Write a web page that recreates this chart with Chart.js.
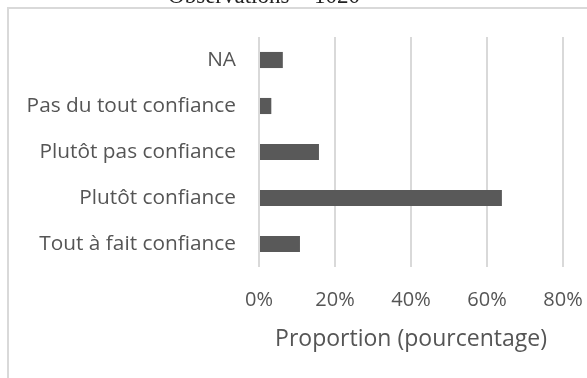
<!DOCTYPE html>
<html>
<head>
<meta charset="utf-8">
<script src="https://cdn.jsdelivr.net/npm/chart.js@4/dist/chart.umd.min.js"></script>
<style>
  html, body { margin: 0; padding: 0; background: #fff; }
  #wrap { width: 587px; height: 378px; position: relative; }
</style>
</head>
<body>
<div id="wrap"><canvas id="c" width="587" height="378"></canvas></div>
<script>
// Response categories (top to bottom) and their share of the 1020 observations, in %
const categories = ['NA', 'Pas du tout confiance', 'Plutôt pas confiance', 'Plutôt confiance', 'Tout à fait confiance'];
const proportions = [6.27, 3.24, 15.78, 63.92, 10.78];
const tickValues = [0, 20, 40, 60, 80];
const chartTitle = 'Observations = 1020';
const axisTitle = 'Proportion (pourcentage)';

const textColor = '#555555';
const gridColor = '#d9d9d9';
const labelFont = 'Open Sans';

// Frame lines and the serif heading above the plot
const framePlugin = {
  id: 'frame',
  beforeDraw(chart) {
    const ctx = chart.ctx;
    ctx.save();
    ctx.fillStyle = '#fff';
    ctx.fillRect(0, 0, chart.width, chart.height);
    ctx.strokeStyle = gridColor;
    ctx.lineWidth = 2;
    ctx.beginPath();
    ctx.moveTo(8, chart.height);
    ctx.lineTo(8, 8);
    ctx.lineTo(chart.width, 8);
    ctx.stroke();
    ctx.fillStyle = '#222';
    ctx.font = '23px "Liberation Serif"';
    ctx.textAlign = 'center';
    ctx.textBaseline = 'alphabetic';
    ctx.fillText(chartTitle, 264, 3);
    ctx.restore();
    // tiny tracking keeps "fi" as two separate letters
    ctx.letterSpacing = '0.01px';
  }
};

new Chart(document.getElementById('c'), {
  type: 'bar',
  data: {
    labels: categories,
    datasets: [{
      data: proportions,
      backgroundColor: '#595959',
      borderWidth: 0,
      barPercentage: 0.35,
      categoryPercentage: 1.0
    }]
  },
  options: {
    indexAxis: 'y',
    responsive: false,
    animation: false,
    layout: { padding: { left: 0, right: 24, top: 37, bottom: 0 } },
    plugins: { legend: { display: false }, tooltip: { enabled: false } },
    scales: {
      x: {
        min: 0,
        max: 80,
        afterBuildTicks(scale) { scale.ticks = tickValues.map(v => ({ value: v })); },
        afterFit(scale) {
          scale.height = 111;
          scale.paddingLeft = 0;
          scale.paddingRight = 0;
        },
        grid: { color: gridColor, lineWidth: 2, drawTicks: false },
        border: { display: false },
        ticks: {
          color: textColor,
          font: { family: labelFont, size: 20 },
          padding: 21,
          maxRotation: 0,
          callback: v => v + '%'
        },
        title: {
          display: true,
          text: axisTitle,
          color: textColor,
          font: { family: labelFont, size: 23 },
          padding: { top: 0, bottom: 25 }
        }
      },
      y: {
        afterFit(scale) { scale.width = 259; },
        grid: { display: false, drawTicks: false },
        border: { display: false },
        ticks: {
          color: textColor,
          font: { family: labelFont, size: 20.8 },
          padding: 23
        }
      }
    }
  },
  plugins: [framePlugin]
});
</script>
</body>
</html>
